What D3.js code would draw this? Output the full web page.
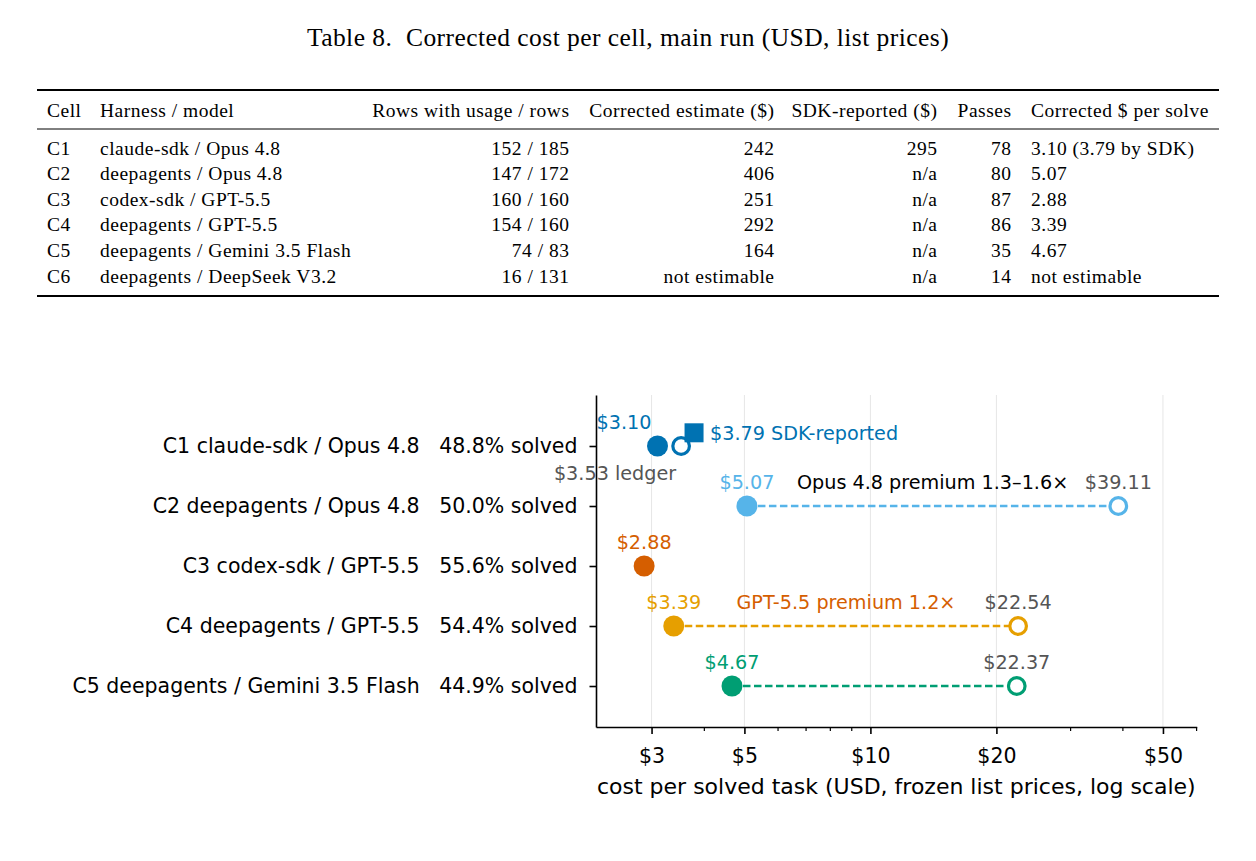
<!DOCTYPE html>
<html>
<head>
<meta charset="utf-8">
<script src="https://cdn.jsdelivr.net/npm/d3@7/dist/d3.min.js"></script>
<style>
  html, body { margin: 0; padding: 0; background: #fff; }
  svg text { white-space: pre; }
</style>
</head>
<body>
<script>
// ---------------- Table data ----------------
const tableTitle = "Table 8.\u00a0\u00a0Corrected cost per cell, main run (USD, list prices)";
const tableColumns = ["Cell", "Harness / model", "Rows with usage / rows", "Corrected estimate ($)", "SDK-reported ($)", "Passes", "Corrected $ per solve"];
const tableCells = ["C1", "C2", "C3", "C4", "C5", "C6"];
const tableHarness = ["claude-sdk / Opus 4.8", "deepagents / Opus 4.8", "codex-sdk / GPT-5.5", "deepagents / GPT-5.5", "deepagents / Gemini 3.5 Flash", "deepagents / DeepSeek V3.2"];
const tableRowsUsage = ["152 / 185", "147 / 172", "160 / 160", "154 / 160", "74 / 83", "16 / 131"];
const tableCorrected = ["242", "406", "251", "292", "164", "not estimable"];
const tableSdk = ["295", "n/a", "n/a", "n/a", "n/a", "n/a"];
const tablePasses = ["78", "80", "87", "86", "35", "14"];
const tablePerSolve = ["3.10 (3.79 by SDK)", "5.07", "2.88", "3.39", "4.67", "not estimable"];

// ---------------- Chart data ----------------
const chartCells = ["C1 claude-sdk / Opus 4.8", "C2 deepagents / Opus 4.8", "C3 codex-sdk / GPT-5.5", "C4 deepagents / GPT-5.5", "C5 deepagents / Gemini 3.5 Flash"];
const solvedPct = ["48.8%", "50.0%", "55.6%", "54.4%", "44.9%"];
const correctedPerSolve = [3.10, 5.07, 2.88, 3.39, 4.67];
const ledgerPerSolve = [3.53, 39.11, null, 22.54, 22.37];
const sdkPerSolve = [3.79, null, null, null, null];
const cellColors = ["#0072B2", "#56B4E9", "#D55E00", "#E69F00", "#009E73"];
const premiumLabels = [null, "Opus 4.8 premium 1.3\u20131.6\u00d7", null, "GPT-5.5 premium 1.2\u00d7", null];
const premiumColors = [null, "#000000", null, "#D55E00", null];
const xMajorTicks = [3, 5, 10, 20, 50];
const xMinorTicks = [4, 6, 7, 8, 9, 30, 40, 60];
const xLabel = "cost per solved task (USD, frozen list prices, log scale)";

const W = 1256, H = 861;
const svg = d3.select("body").append("svg").attr("width", W).attr("height", H);
svg.append("rect").attr("width", W).attr("height", H).attr("fill", "#fff");

// ---------------- Table ----------------
const serif = "'Liberation Serif', 'DejaVu Serif', serif";
const tbl = svg.append("g").attr("font-family", serif).attr("fill", "#000");
tbl.append("text").attr("x", 628).attr("y", 46).attr("text-anchor", "middle")
  .attr("font-size", 25.5).attr("letter-spacing", 0.45).text(tableTitle);

const tL = 37, tR = 1219;
tbl.append("line").attr("x1", tL).attr("x2", tR).attr("y1", 90).attr("y2", 90).attr("stroke", "#000").attr("stroke-width", 1.8);
tbl.append("line").attr("x1", tL).attr("x2", tR).attr("y1", 129).attr("y2", 129).attr("stroke", "#000").attr("stroke-width", 1);
tbl.append("line").attr("x1", tL).attr("x2", tR).attr("y1", 296).attr("y2", 296).attr("stroke", "#000").attr("stroke-width", 1.8);

const colX = [47, 100, 569, 774, 937, 1011, 1031];
const colAnchor = ["start", "start", "end", "end", "end", "end", "start"];
const tableData = [tableCells, tableHarness, tableRowsUsage, tableCorrected, tableSdk, tablePasses, tablePerSolve];
const rowY = d3.scaleLinear().domain([0, 5]).range([154.5, 282.5]);
const fs = 19.5, ls = 0.5;

tableColumns.forEach((c, j) => {
  tbl.append("text").attr("x", colX[j] + (colAnchor[j] === "end" ? ls : 0)).attr("y", 117).attr("text-anchor", colAnchor[j])
    .attr("font-size", fs).attr("letter-spacing", ls).text(c);
});
tableData.forEach((col, j) => {
  tbl.selectAll(null).data(col).join("text")
    .attr("x", colX[j] + (colAnchor[j] === "end" ? ls : 0)).attr("y", (d, i) => rowY(i))
    .attr("text-anchor", colAnchor[j]).attr("font-size", fs).attr("letter-spacing", ls).text(d => d);
});

// ---------------- Chart ----------------
const sans = "'DejaVu Sans', sans-serif";
const g = svg.append("g").attr("font-family", sans);
const x = d3.scaleLog().domain([2.21, 60.2]).range([596, 1196.7]);
const y = d3.scaleLinear().domain([-0.85, 4.683]).range([395, 727]);
const idx = d3.range(chartCells.length);

// grid
g.append("g").selectAll("line").data(xMajorTicks).join("line")
  .attr("x1", d => x(d)).attr("x2", d => x(d)).attr("y1", 395).attr("y2", 727)
  .attr("stroke", "#e6e6e6").attr("stroke-width", 1);

// dashed connectors
g.append("g").selectAll("line").data(idx.filter(i => ledgerPerSolve[i] != null && i > 0)).join("line")
  .attr("x1", i => x(correctedPerSolve[i])).attr("x2", i => x(ledgerPerSolve[i]))
  .attr("y1", i => y(i)).attr("y2", i => y(i))
  .attr("stroke", i => cellColors[i]).attr("stroke-width", 2.3).attr("stroke-dasharray", "7.5,3.5");

// filled circles (corrected)
g.append("g").selectAll("circle").data(idx).join("circle")
  .attr("cx", i => x(correctedPerSolve[i])).attr("cy", i => y(i)).attr("r", 10.5)
  .attr("fill", i => cellColors[i]);

// open circles (ledger)
g.append("g").selectAll("circle").data(idx.filter(i => ledgerPerSolve[i] != null)).join("circle")
  .attr("cx", i => x(ledgerPerSolve[i])).attr("cy", i => y(i)).attr("r", 8.3)
  .attr("fill", "#fff").attr("stroke", i => cellColors[i]).attr("stroke-width", 3.2);

// SDK-reported squares
const sq = 19;
g.append("g").selectAll("rect").data(idx.filter(i => sdkPerSolve[i] != null)).join("rect")
  .attr("x", i => x(sdkPerSolve[i]) - sq / 2).attr("y", i => y(i - 0.22) - sq / 2)
  .attr("width", sq).attr("height", sq).attr("fill", i => cellColors[i]);

// value labels
const annFs = 19.2;
const labels = g.append("g").attr("font-size", annFs);
idx.forEach(i => {
  const first = i === 0;
  labels.append("text")
    .attr("x", x(correctedPerSolve[i]) + (first ? -6 : 0))
    .attr("y", y(i) - 17)
    .attr("text-anchor", first ? "end" : "middle")
    .attr("fill", cellColors[i])
    .text("$" + correctedPerSolve[i].toFixed(2));
  if (ledgerPerSolve[i] != null) {
    labels.append("text")
      .attr("x", x(ledgerPerSolve[i]) + (first ? -5 : 0))
      .attr("y", first ? y(i) + 34 : y(i) - 17)
      .attr("text-anchor", first ? "end" : "middle")
      .attr("fill", "#555555")
      .text("$" + ledgerPerSolve[i].toFixed(2) + (first ? " ledger" : ""));
  }
  if (sdkPerSolve[i] != null) {
    labels.append("text")
      .attr("x", x(sdkPerSolve[i]) + 16)
      .attr("y", y(i - 0.22) + 7)
      .attr("text-anchor", "start")
      .attr("fill", cellColors[i])
      .text("$" + sdkPerSolve[i].toFixed(2) + " SDK-reported");
  }
  if (premiumLabels[i] != null) {
    const gm = Math.sqrt(correctedPerSolve[i] * ledgerPerSolve[i]);
    labels.append("text")
      .attr("x", x(gm)).attr("y", y(i) - 17)
      .attr("text-anchor", "middle").attr("fill", premiumColors[i])
      .text(premiumLabels[i]);
  }
});

// axes
const tickFs = 20.5;
const yAxis = g.append("g").attr("transform", "translate(596,0)")
  .call(d3.axisLeft(y).tickValues(idx).tickSize(6.5).tickSizeOuter(0).tickPadding(12)
    .tickFormat(i => chartCells[i] + "   " + solvedPct[i] + " solved"));
yAxis.select(".domain").attr("stroke-width", 1.6);
yAxis.selectAll(".tick line").attr("stroke-width", 1.6);
yAxis.selectAll("text").attr("font-family", sans).attr("font-size", tickFs).attr("fill", "#000");

const xAxis = g.append("g").attr("transform", "translate(0,727)")
  .call(d3.axisBottom(x).tickValues(xMajorTicks).tickSize(7).tickSizeOuter(0).tickPadding(14)
    .tickFormat(d => "$" + d));
xAxis.select(".domain").attr("stroke-width", 1.6);
xAxis.selectAll(".tick line").attr("stroke-width", 1.6);
xAxis.selectAll("text").attr("font-family", sans).attr("font-size", tickFs).attr("fill", "#000");

const xMinor = g.append("g").attr("transform", "translate(0,727)")
  .call(d3.axisBottom(x).tickValues(xMinorTicks).tickSize(4).tickSizeOuter(0).tickFormat(""));
xMinor.select(".domain").remove();
xMinor.selectAll(".tick line").attr("stroke-width", 1.2);

g.append("text").attr("x", (596 + 1196.7) / 2).attr("y", 794)
  .attr("text-anchor", "middle").attr("font-size", 22).attr("fill", "#000").text(xLabel);
</script>
</body>
</html>
